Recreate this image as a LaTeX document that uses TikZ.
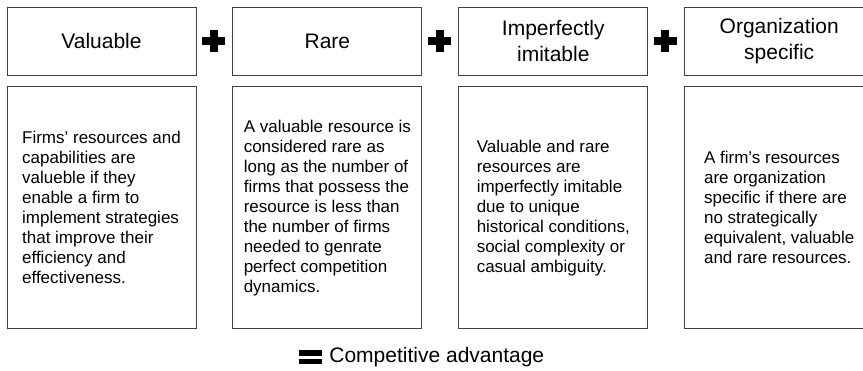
\documentclass[tikz,border=0pt]{standalone}
\usepackage{fontspec}
\setmainfont{Liberation Sans}
\usetikzlibrary{positioning}

\begin{document}
\begin{tikzpicture}[x=1pt, y=-1pt, node distance={36pt},
    head/.style = {draw=black!75, line width=0.9pt, minimum width=189pt, minimum height=68pt, inner sep=0pt, align=center, font=\fontsize{21}{26}\selectfont},
    body/.style = {draw=black!75, line width=0.9pt, minimum width=189pt, minimum height=242pt, inner sep=0pt, align=left, font=\fontsize{17}{20}\selectfont},
    plussign/.style = {minimum size=22pt, inner sep=0pt},
    eqsign/.style = {minimum width=23pt, minimum height=13pt, inner sep=0pt}]
    \useasboundingbox (0,0) rectangle (863,370);

    \node[head] (v_t) at (101.5,41) {Valuable};
    \node[head] (r_t) [right=of v_t] {Rare};
    \node[head] (i_t) [right=of r_t] {Imperfectly\\imitable};
    \node[head] (o_t) [right=of i_t] {Organization\\specific};

    \node[body] (v_b) [below=11pt of v_t] {Firms' resources and\\capabilities are\\valueble if they\\enable a firm to\\implement strategies\\that improve their\\efficiency and\\effectiveness.};
    \node[body] (r_b) [below=11pt of r_t] {A valuable resource is\\considered rare as\\long as the number of\\firms that possess the\\resource is less than\\the number of firms\\needed to genrate\\perfect competition\\dynamics.};
    \node[body] (i_b) [below=11pt of i_t] {Valuable and rare\\resources are\\imperfectly imitable\\due to unique\\historical conditions,\\social complexity or\\casual ambiguity.};
    \node[body] (o_b) [below=11pt of o_t] {A firm's resources\\are organization\\specific if there are\\no strategically\\equivalent, valuable\\and rare resources.};

    \node[plussign] (p_1) [right=6pt of v_t] {};
    \node[plussign] (p_2) [right=6pt of r_t] {};
    \node[plussign] (p_3) [right=6pt of i_t] {};
    \foreach \p in {p_1,p_2,p_3}
        \draw[line width=8pt] (\p.west) -- (\p.east) (\p.north) -- (\p.south);

    % result line
    \node[eqsign] (eq) at (310.5,357) {};
    \fill (eq.north west) rectangle ([yshift=1.5pt]eq.east);
    \fill ([yshift=-1.5pt]eq.west) rectangle (eq.south east);
    \node[font=\fontsize{21}{25}\selectfont, inner sep=0pt] (res) [right=7pt of eq] {Competitive advantage};
\end{tikzpicture}
\end{document}
